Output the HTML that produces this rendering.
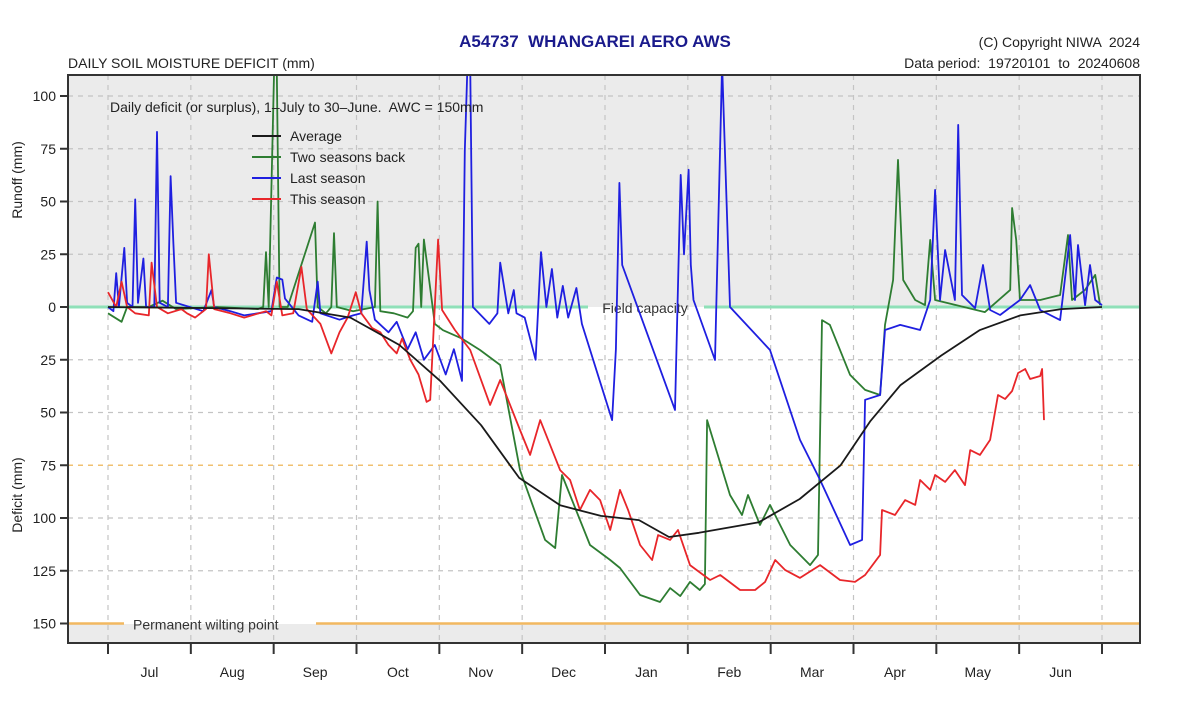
<!DOCTYPE html>
<html><head><meta charset="utf-8"><style>
html,body{margin:0;padding:0;background:#fff;}
svg{display:block;font-family:"Liberation Sans",sans-serif;}
text{white-space:pre;}
</style></head><body>
<svg id="chart" width="1200" height="724" viewBox="0 0 1200 724">
<defs><clipPath id="clip"><rect x="68" y="75" width="1072" height="568"/></clipPath></defs>
<rect x="68" y="75" width="1072" height="232" fill="#ebebeb"/>
<rect x="68" y="624" width="1072" height="19" fill="#ebebeb"/>
<g id="grid"></g>
<g id="refs"></g>
<g id="series" clip-path="url(#clip)"></g>
<rect x="68" y="75" width="1072" height="568" fill="none" stroke="#333" stroke-width="2"/>
<g id="axes"></g>
<text x="595" y="47" text-anchor="middle" font-size="17" font-weight="bold" fill="#1a1a8c">A54737  WHANGAREI AERO AWS</text>
<text x="1140" y="47" text-anchor="end" font-size="14" fill="#222">(C) Copyright NIWA  2024</text>
<text x="1140" y="68" text-anchor="end" font-size="14" fill="#222">Data period:  19720101  to  20240608</text>
<text x="68" y="68" font-size="14" fill="#222">DAILY SOIL MOISTURE DEFICIT (mm)</text>
<text x="110" y="112" font-size="14" fill="#222">Daily deficit (or surplus), 1–July to 30–June.  AWC = 150mm</text>
<text transform="translate(22,180) rotate(-90)" text-anchor="middle" font-size="14" fill="#222">Runoff (mm)</text>
<text transform="translate(22,495) rotate(-90)" text-anchor="middle" font-size="14" fill="#222">Deficit (mm)</text>
<g id="legend"></g>
<script>
const monthLabels=["Jul","Aug","Sep","Oct","Nov","Dec","Jan","Feb","Mar","Apr","May","Jun"];
const runoffTicks=[100,75,50,25,0];
const deficitTicks=[25,50,75,100,125,150];
const avgDays=[0,70,89,107,122,137,151,166,181,195,206,217,239,254,269,280,291,306,320,335,350,365];
const avgVals=[0,-1,-5,-18,-35,-56,-81,-94,-99,-101,-109,-107,-102,-91,-75,-54,-37,-23,-11,-4,-1,0];
const twoDays=[0,5,7,15,20,25,40,55,57,58,59,61,62,63,66,76,77,80,82,83,84,90,98,99,100,105,110,112,113,114,115,116,120,123,130,136.6,144,151.3,160.5,164.2,166.7,177,184.4,188,195.4,202.7,206.4,210.1,213.7,217.3,219.2,220,228.4,232.8,235,239.4,243.1,250.5,257.8,260.7,262.2,265.1,272.5,278,283.5,285.3,288.3,290.1,292,296.4,300,301.9,303.7,322,331.3,332,333.5,334.9,342.3,349.6,352.5,354,358.8,362.5,364.3];
const twoVals=[-3,-7,0,0,3,-1,0,-1,0,26,0,112,112,0,0,40,0,-3,0,35,0,-2,0,50,-2,-3,-5,-2,28,30,0,32,-8,-11,-15,-20.4,-27.5,-77.3,-110.4,-114.2,-79.6,-112.8,-119.9,-123.7,-136.5,-139.8,-133.2,-137,-130.3,-134.1,-131.3,-53.6,-89.1,-98.6,-89.1,-103.3,-93.8,-112.8,-122.3,-117.5,-6.2,-8.5,-32.2,-39.3,-41.7,-8.5,12.8,69.7,12.8,3.3,0.9,31.8,3.3,-2.4,8.1,46.9,31.8,3.3,3.3,5.7,34.1,3.3,8.1,15.2,0.9];
const lastDays=[0,2,3,4,6,7,9,10,11,13,14,17,18,19,22,23,24,25,30,35,38,39,45,50,55,60,62,64,65,70,75,77,78,85,90,93,95,96,98,103,106,110,113,116,120,124,127,130,131,132,133,134,140,143,144,147,149,150,153,157,159,161,163,165,167,169,172,174,185.1,186.5,187.8,188.8,208.2,209.5,210.3,211.5,213.2,214,215,222.9,225.5,228.4,243.1,254.1,261.5,272.5,276.9,278,283.5,285.3,290.9,298.2,301.9,303.7,305.5,307.4,311,312.2,313.6,318.4,321.3,323.9,327.6,334.9,338.6,342.3,349.6,353.3,355.1,356.2,358.8,360.6,362.5,365];
const lastVals=[0,-2,16,0,28,2,0,51,2,23,0,0,83,2,0,62,30,2,0,-2,8,0,-2,-4,-3,-2,14,13,4,-4,-7,12,-3,-6,-4,-3,31,8,-6,-12,-7,-20,-12,-25,-18,-32,-20,-35,74,115,115,0,-8,-3,21,-3,8,-3,-5,-25,26,0,18,-5,10,-5,9,-8,-53.6,-20,58.8,19.9,-48.8,20,62.6,25,65,20,3.3,-25.1,115,0,-20.4,-63,-82,-112.8,-110.4,-44,-41.7,-10.9,-8.5,-10.9,3.3,55.5,3.3,27,3.3,86.3,5.7,-0.5,19.9,-1.4,-3.8,3.3,10.4,-1.4,-6.2,34.1,3.3,29.4,0.9,19.9,3.3,0.9];
const thisDays=[0,3,5,7,10,15,16,18,22,27,29,32,36,37,39,45,50,58,60,62,64,68,71,73,78,82,85,88,91,93,97,100,103,106,108,111,114,117,118.3,121.2,122.7,127.4,133,140.3,144,151.3,155,158.7,166,169.7,173.3,177,180.7,184.4,188,191,195.4,199.8,202,206.4,209.3,213.7,221.1,224.8,232.1,237.6,241.3,245,248.6,254.1,261.5,268.8,274.3,278,283.5,284.2,289,292.7,296.4,298.2,301.9,303.7,307.4,311,314.7,316.6,320.2,323.9,326.8,329.4,332,334.2,336.8,338.6,342.3,343,343.7];
const thisVals=[7,0,12,0,-3,-4,21,0,-3,-1,-3,-5,-1,25,-1,-3,-5,-2,-4,12,-4,-3,19,-1,-8,-22,-12,-5,7,-3,-10,-12,-18,-22,-15,-25,-32,-45,-44,32,-1.4,-10.9,-20.4,-46.4,-34.6,-58.3,-70.1,-53.6,-77.3,-82,-96.2,-86.7,-91.5,-105.7,-86.7,-96.2,-112.8,-119.9,-108.1,-110.4,-105.7,-122.3,-129.4,-127,-134.1,-134.1,-130.3,-119.9,-124.6,-128.4,-122.3,-129.4,-130.3,-127,-117.5,-96.2,-98.6,-91.5,-93.8,-82,-86.7,-79.6,-82.9,-77.3,-84.4,-67.8,-70.1,-63,-41.7,-43.6,-39.8,-31.3,-29.4,-34.1,-32.7,-29.4,-53.6];

const NS="http://www.w3.org/2000/svg";
const X0=108,X1=1102,Y0=307,PX=2.11;
function xs(d){return X0+d*(X1-X0)/365;}
function ys(v){return Y0-v*PX;}
function mk(tag,attrs,parent){const e=document.createElementNS(NS,tag);for(const k in attrs)e.setAttribute(k,attrs[k]);parent.appendChild(e);return e;}
const grid=document.getElementById('grid'),axes=document.getElementById('axes'),refs=document.getElementById('refs'),ser=document.getElementById('series'),leg=document.getElementById('legend');
for(let i=0;i<=12;i++){
  const x=xs(i*365/12);
  const g=mk('line',{x1:x,x2:x,y1:75,y2:643,stroke:'#c4c4c4','stroke-dasharray':'5,5','stroke-width':1.2},grid);
  
  
  const t=mk('line',{x1:x,x2:x,y1:643,y2:654,stroke:'#333','stroke-width':2},axes);
  
  
}
monthLabels.forEach((m,i)=>{
  const t=mk('text',{x:xs((i+0.5)*365/12),y:677,'text-anchor':'middle','font-size':14,fill:'#222'},axes);
  t.textContent=m;
  
  
});
function ytick(v,label){
  const y=ys(v);
  if(v!==0&&v!==-150&&v!==-75){
    const g=mk('line',{x1:68,x2:1140,y1:y,y2:y,stroke:'#c4c4c4','stroke-dasharray':'5,5','stroke-width':1.2},grid);
    
    
  }
  const t=mk('line',{x1:60,x2:68,y1:y,y2:y,stroke:'#333','stroke-width':2},axes);
  
  
  const tx=mk('text',{x:56,y:y+5,'text-anchor':'end','font-size':14,fill:'#222'},axes);
  tx.textContent=label;
  
  
}
runoffTicks.forEach(v=>ytick(v,String(v)));
deficitTicks.forEach(v=>ytick(-v,String(v)));
let r=mk('line',{x1:68,x2:1140,y1:ys(-75),y2:ys(-75),stroke:'#f0c070','stroke-dasharray':'5,5','stroke-width':1.5},refs);


r=mk('line',{x1:68,x2:588,y1:ys(0),y2:ys(0),stroke:'#8fe0b8','stroke-width':3},refs);


r=mk('line',{x1:704,x2:1140,y1:ys(0),y2:ys(0),stroke:'#8fe0b8','stroke-width':3},refs);


r=mk('line',{x1:68,x2:124,y1:ys(-150),y2:ys(-150),stroke:'#f2b860','stroke-width':2.5},refs);


r=mk('line',{x1:316,x2:1140,y1:ys(-150),y2:ys(-150),stroke:'#f2b860','stroke-width':2.5},refs);


function line(days,vals,color,name){
  const p=mk('polyline',{points:days.map((d,i)=>xs(d).toFixed(1)+','+ys(vals[i]).toFixed(1)).join(' '),fill:'none',stroke:color,'stroke-width':1.8,'stroke-linejoin':'round'},ser);
  
  
}
line(twoDays,twoVals,'#2e7d32','two-seasons-back-line');
line(lastDays,lastVals,'#1f1fe0','last-season-line');
line(thisDays,thisVals,'#e8262a','this-season-line');
line(avgDays,avgVals,'#1a1a1a','average-line');
let lb=mk('text',{x:645,y:ys(0)+6,'text-anchor':'middle','font-size':14,fill:'#333'},refs);
lb.textContent='Field capacity';


lb=mk('text',{x:133,y:ys(-150)+6,'font-size':14,fill:'#333'},refs);
lb.textContent='Permanent wilting point';


const legNames=["Average","Two seasons back","Last season","This season"];
const legColors=['#1a1a1a','#2e7d32','#1f1fe0','#e8262a'];
legNames.forEach((n,i)=>{
  const y=136+i*21;
  const l=mk('line',{x1:252,x2:281,y1:y,y2:y,stroke:legColors[i],'stroke-width':2},leg);
  
  
  const t=mk('text',{x:290,y:y+5,'font-size':14,fill:'#222'},leg);
  t.textContent=n;
  
  
});
</script>
</svg>
</body></html>
